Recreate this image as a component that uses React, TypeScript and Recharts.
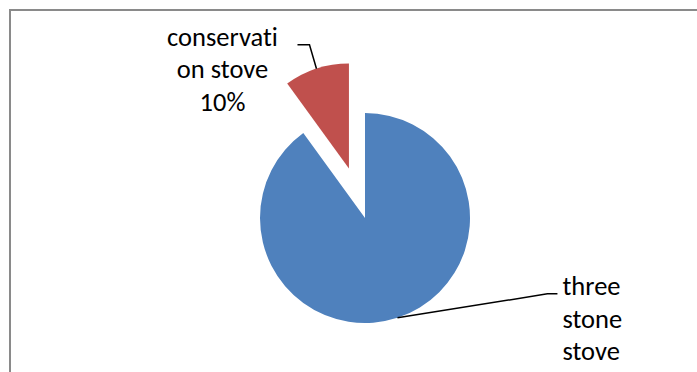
import { PieChart, Pie, Cell } from "recharts"

const stoveTypes = ["three stone stove", "conservation stove"]
const shares = [90, 10]
const sliceColors = ["#4F81BD", "#C0504D"]
// how Excel wrapped the category names in the labels
const labelLines = [["three", "stone", "stove"], ["conservati", "on stove"]]
const showPercent = [false, true]
const explodedIndex = 1

const data = stoveTypes.map((name, i) => ({ name, value: shares[i] }))

const W = 697
const H = 372
const CX = 365
const CY = 218
const R = 105
const EXPLODE = 52
const RADIAN = Math.PI / 180
const LINE_H = 32.7

// leader line + text placement, relative to the point on the arc
const labelLayout = [
  { elbowDx: 150, elbowDy: -24, tail: 10, textDx: 5, anchor: "start", baselineDy: 1 },
  { elbowDx: -7, elbowDy: -24, tail: -12, textDx: -75, anchor: "middle", baselineDy: 1 },
]

const total = shares.reduce((a, b) => a + b, 0)
const before = shares.slice(0, explodedIndex).reduce((a, b) => a + b, 0)
const explodeMid = 90 - (360 * (before + shares[explodedIndex] / 2)) / total
const explodeDx = EXPLODE * Math.cos(explodeMid * RADIAN)
const explodeDy = -EXPLODE * Math.sin(explodeMid * RADIAN)

function makeLabel(only: number) {
  return (props: any) => {
    const { cx, cy, midAngle, outerRadius, index, percent } = props
    if (index !== only) return <g />
    const lay = labelLayout[index]
    const x0 = cx + outerRadius * Math.cos(-midAngle * RADIAN)
    const y0 = cy + outerRadius * Math.sin(-midAngle * RADIAN)
    const x1 = x0 + lay.elbowDx
    const y1 = y0 + lay.elbowDy
    const x2 = x1 + lay.tail
    const lines = [...labelLines[index]]
    if (showPercent[index]) lines.push(`${Math.round(percent * 100)}%`)
    return (
      <g>
        <polyline points={`${x0},${y0} ${x1},${y1} ${x2},${y1}`} fill="none" stroke="#000" strokeWidth={1.5} />
        <text
          x={x2 + lay.textDx}
          y={y1 + lay.baselineDy}
          textAnchor={lay.anchor as any}
          fontFamily="Carlito, Lato, sans-serif"
          fontSize={26.5}
          fill="#000"
          style={{ fontVariantLigatures: "none" }}
        >
          {lines.map((t, k) => (
            <tspan key={k} x={x2 + lay.textDx} y={y1 + lay.baselineDy + k * LINE_H}>
              {t}
            </tspan>
          ))}
        </text>
      </g>
    )
  }
}

export default function App() {
  return (
    <div style={{ position: "absolute", left: 0, top: 0, width: W, height: H, background: "#fff", overflow: "hidden" }}>
      <div
        style={{
          position: "absolute",
          left: 9,
          top: 9,
          width: W,
          height: H,
          borderTop: "2px solid #8a8a8a",
          borderLeft: "2px solid #8a8a8a",
        }}
      />
      <div style={{ position: "absolute", left: 0, top: 0 }}>
        <PieChart width={W} height={H} margin={{ top: 0, right: 0, bottom: 0, left: 0 }}>
          <Pie
            data={data}
            dataKey="value"
            nameKey="name"
            cx={CX}
            cy={CY}
            outerRadius={R}
            startAngle={90}
            endAngle={-270}
            stroke="none"
            labelLine={false}
            label={makeLabel(0)}
            isAnimationActive={false}
          >
            {data.map((d, i) => (
              <Cell key={d.name} fill={i === explodedIndex ? "none" : sliceColors[i]} />
            ))}
          </Pie>
          <Pie
            data={data}
            dataKey="value"
            nameKey="name"
            cx={CX + explodeDx}
            cy={CY + explodeDy}
            outerRadius={R}
            startAngle={90}
            endAngle={-270}
            stroke="none"
            labelLine={false}
            label={makeLabel(explodedIndex)}
            isAnimationActive={false}
          >
            {data.map((d, i) => (
              <Cell key={d.name} fill={i === explodedIndex ? sliceColors[i] : "none"} />
            ))}
          </Pie>
        </PieChart>
      </div>
    </div>
  )
}
